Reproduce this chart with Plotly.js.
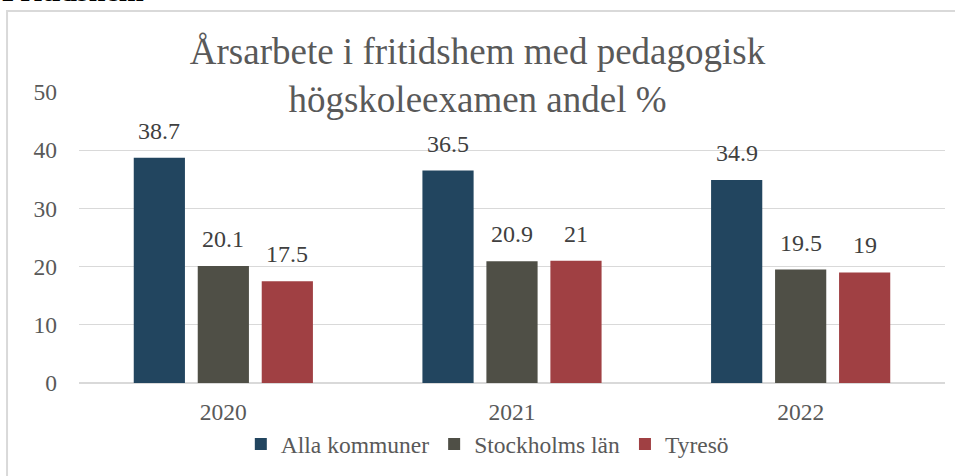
<!DOCTYPE html>
<html>
<head>
<meta charset="utf-8">
<script src="https://cdn.plot.ly/plotly-3.0.1.min.js"></script>
<style>
html,body{margin:0;padding:0;background:#fff;}
#chart{width:955px;height:476px;}
</style>
</head>
<body>
<div id="chart"></div>
<script>
const categories = ["2020", "2021", "2022"];
const seriesNames = ["Alla kommuner", "Stockholms län", "Tyresö"];
const allaKommuner = [38.7, 36.5, 34.9];
const stockholmsLan = [20.1, 20.9, 19.5];
const tyreso = [17.5, 21, 19];
const colors = ["#22455F", "#4F4F46", "#A04043"];
const yTicks = [0, 10, 20, 30, 40, 50];

const serif = "Times New Roman";
const grey = "#595959";
const labelGrey = "#404040";

const values = [allaKommuner, stockholmsLan, tyreso];
const traces = values.map((v, i) => ({
  type: "bar",
  name: seriesNames[i],
  x: categories,
  y: v,
  marker: {color: colors[i]},
  hoverinfo: "none"
}));

// data labels above each bar, positioned through the axes (category index + group offset)
const labelAnns = [];
values.forEach((v, i) => {
  v.forEach((val, j) => {
    labelAnns.push({
      x: j, y: val, xref: "x", yref: "y",
      text: String(val), showarrow: false,
      xshift: (i - 1) * 64, yshift: 12, yanchor: "bottom",
      font: {family: serif, size: 24, color: labelGrey}
    });
  });
});

const layout = {
  width: 955,
  height: 476,
  margin: {l: 79, r: 10, t: 92, b: 93},
  paper_bgcolor: "#fff",
  plot_bgcolor: "#fff",
  barmode: "group",
  bargap: 0.335,
  bargroupgap: 0.2,
  font: {family: serif, color: grey, size: 23},
  title: {
    text: "Årsarbete i fritidshem med pedagogisk<br>högskoleexamen andel %",
    font: {family: serif, size: 37, color: grey},
    x: 0.5, xanchor: "center",
    y: 0.865, yanchor: "middle", yref: "container"
  },
  xaxis: {
    type: "category",
    showgrid: false, showline: false, ticks: "",
    tickfont: {family: serif, size: 23.5, color: grey},
    ticklabelstandoff: 12
  },
  yaxis: {
    range: [0, 50],
    tickvals: yTicks,
    ticktext: yTicks.map(String),
    showgrid: true, gridcolor: "#d9d9d9", gridwidth: 1,
    zeroline: true, zerolinecolor: "#d9d9d9", zerolinewidth: 2,
    showline: false, ticks: "",
    tickfont: {family: serif, size: 23.5, color: grey},
    ticklabelstandoff: 21
  },
  showlegend: true,
  legend: {
    orientation: "h",
    x: 0.4715, xanchor: "center",
    y: -0.21, yanchor: "middle",
    font: {family: serif, size: 23.5, color: grey},
    itemclick: false
  },
  shapes: [{
    type: "rect",
    xref: "paper", yref: "paper",
    x0: -0.0831, x1: 1.2,
    y0: -0.6, y1: 1.278,
    line: {color: "#d9d9d9", width: 2},
    fillcolor: "rgba(0,0,0,0)",
    layer: "below"
  }],
  annotations: labelAnns.concat([{
    text: "<b>Fritidshem</b>",
    xref: "paper", yref: "paper",
    x: -0.091, xanchor: "left",
    y: 1.285, yanchor: "bottom",
    showarrow: false,
    font: {family: serif, size: 30, color: "#000"}
  }])
};

Plotly.newPlot("chart", traces, layout, {displayModeBar: false, staticPlot: true});
</script>
</body>
</html>
